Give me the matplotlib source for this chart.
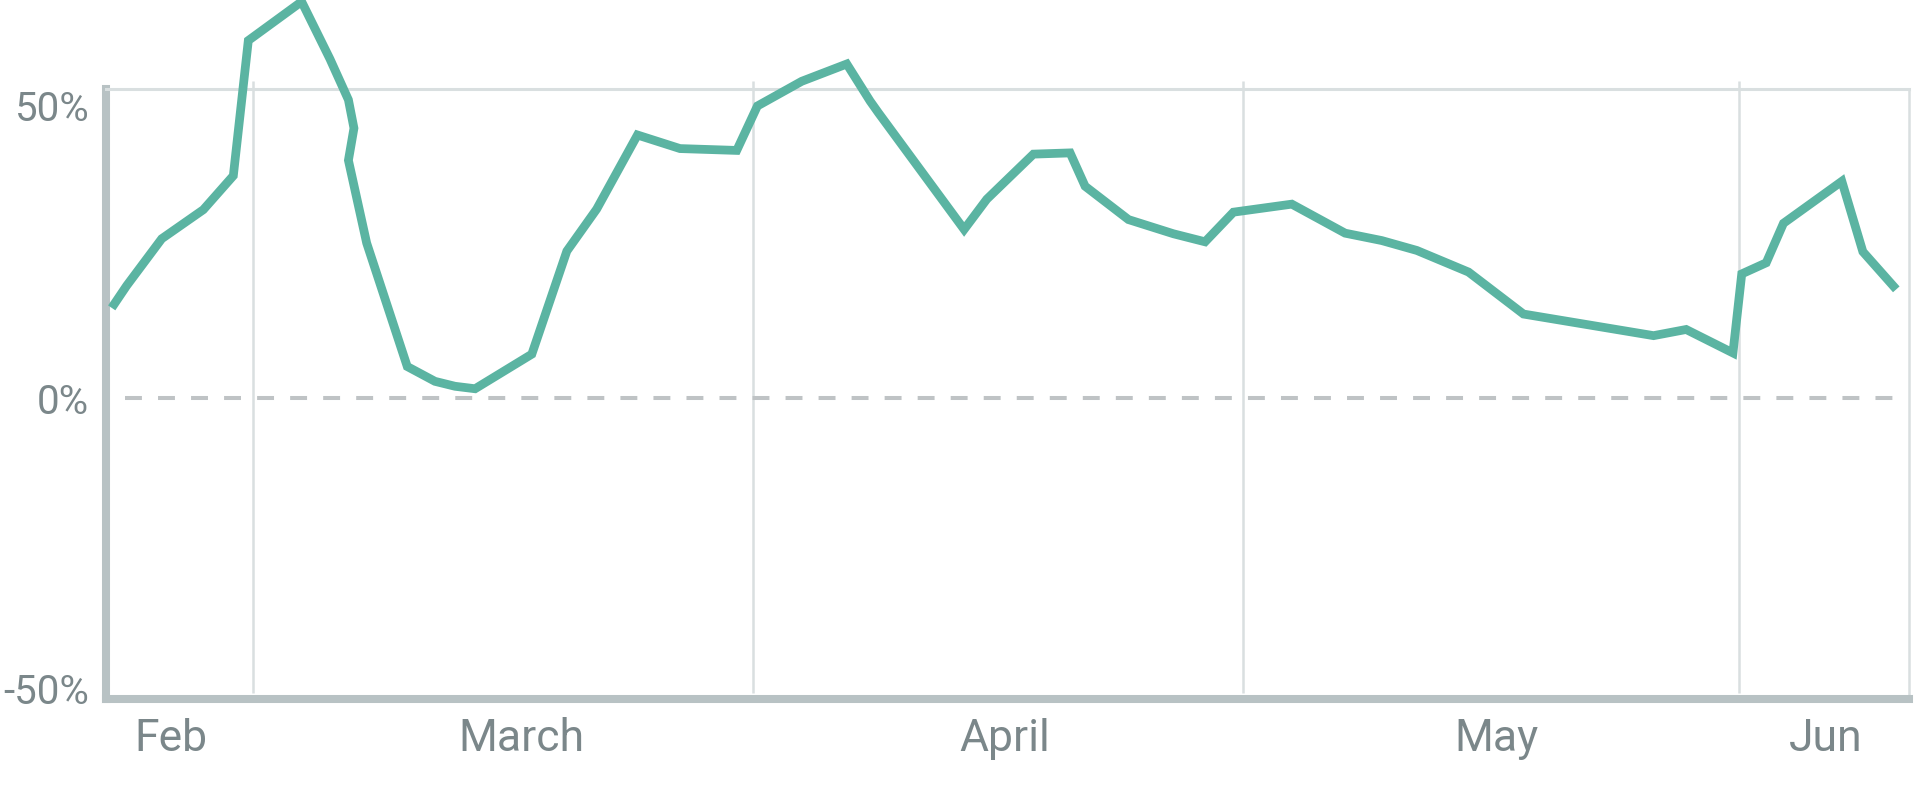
import matplotlib
matplotlib.use('Agg')
import matplotlib.pyplot as plt

plt.rcParams['font.family'] = ['Roboto', 'DejaVu Sans']

# x in days from the start of the axis, y in percent
days = [0.35, 1.27, 3.42, 5.97, 7.81, 8.73, 12.0, 13.74, 14.87, 15.21, 14.87,
        15.99, 18.48, 20.18, 21.41, 22.64, 26.12, 28.27, 30.10, 32.60, 35.21,
        38.69, 39.96, 42.68, 45.44, 46.87, 47.38, 52.64, 54.03, 56.89, 59.14,
        60.06, 62.72, 65.48, 67.42, 69.16, 72.74, 76.01, 78.26, 80.41, 83.58,
        86.95, 94.93, 96.93, 99.80, 100.34, 101.84, 102.90, 106.48, 107.77,
        109.82]
values = [14.6, 18.2, 25.8, 30.5, 36.0, 57.9, 64.2, 54.9, 48.3, 43.7, 38.5,
          25.1, 5.1, 2.7, 1.9, 1.5, 7.1, 23.8, 30.6, 42.6, 40.4,
          40.1, 47.3, 51.3, 54.1, 48.1, 46.2, 27.3, 32.2, 39.5, 39.7,
          34.3, 28.9, 26.6, 25.3, 30.1, 31.4, 26.7, 25.5, 23.9, 20.4,
          13.6, 10.1, 11.1, 7.3, 20.1, 21.9, 28.3, 35.1, 23.7,
          17.6]

month_labels = ['Feb', 'March', 'April', 'May', 'Jun']
month_pos = [4.0, 25.5, 55.1, 85.3, 105.5]
grid_pos = [9.04, 39.71, 69.77, 100.2]

y_labels = ['50%', '0%', '-50%']
y_label_pos = [47.4, 0, -47.0]

axis_col = '#b8c2c4'
grid_col = '#d9dfe0'
text_col = '#7b878a'
line_col = '#5bb4a2'

fig = plt.figure(figsize=(19.2, 7.9), dpi=100)
ax = fig.add_axes([106 / 1920, 91 / 790, (1909 - 106) / 1920, (699 - 89.3) / 790])
ax.set_xlim(0, 110.6)
ax.set_ylim(-48.75, 50)

for s in ['left', 'bottom']:
    ax.spines[s].set_color(axis_col)
    ax.spines[s].set_linewidth(5.8)
ax.spines['bottom'].set_capstyle('projecting')
ax.spines['top'].set_color(grid_col)
ax.spines['top'].set_linewidth(2.2)
ax.spines['right'].set_color(grid_col)
ax.spines['right'].set_linewidth(1.8)

ax.vlines(grid_pos, -47.8, 51.3, color=grid_col, lw=1.8, clip_on=False, zorder=1)
ax.plot([1.17, 109.6], [0, 0], color='#bfc3c5', lw=2.9,
        linestyle=(0, (4.2, 4.0)), zorder=2)

ax.plot(days, values, color=line_col, lw=6.3, clip_on=False,
        solid_joinstyle='miter', solid_capstyle='butt', zorder=3)

ax.set_xticks(month_pos)
ax.set_xticklabels(month_labels)
ax.set_yticks(y_label_pos)
ax.set_yticklabels(y_labels)
ax.tick_params(axis='x', length=0, pad=14, labelsize=32, labelcolor=text_col)
ax.tick_params(axis='y', length=0, pad=12, labelsize=29, labelcolor=text_col)

fig.savefig('out.png', dpi=100)
